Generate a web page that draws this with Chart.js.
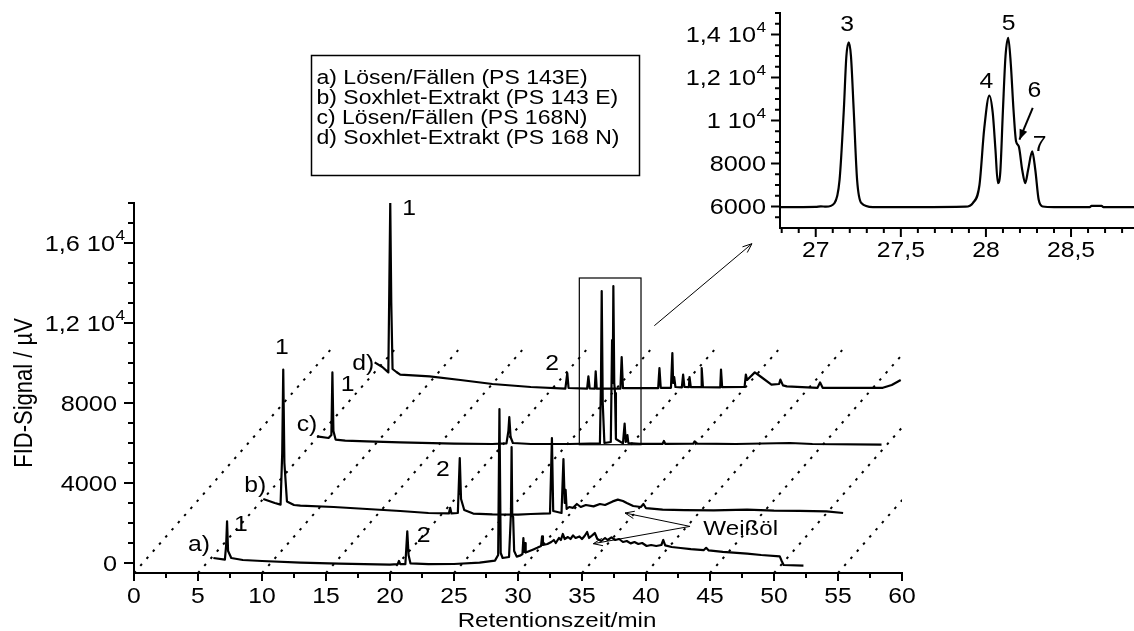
<!DOCTYPE html>
<html>
<head>
<meta charset="utf-8">
<script src="https://cdn.jsdelivr.net/npm/chart.js@4"></script>
<style>
  html, body { margin: 0; padding: 0; background: #fff; }
  #wrap { position: relative; width: 1134px; height: 631px; overflow: hidden; }
  #main { position: absolute; left: 0; top: 0; }
  #inset { position: absolute; left: 680px; top: 0; }
</style>
</head>
<body>
<div id="wrap">
  <canvas id="main" width="1134" height="631"></canvas>
  <canvas id="inset" width="454" height="265"></canvas>
</div>
<script>
// ---- Daten ----
// a) Lösen/Fällen (PS 143E)
const traceA_x = [6.2, 7.1, 7.2, 7.27, 7.35, 7.6, 8.5, 10, 13, 16,
  20, 20.6, 20.7, 20.8, 21.2, 21.35, 21.45, 21.6, 23, 25,
  27, 28.2, 28.45, 28.55, 28.65, 28.8, 29.3, 29.45, 29.5, 29.55,
  29.62, 29.7, 29.9, 30.2, 30.35, 30.42, 30.48, 30.55, 30.6, 30.9,
  31.2, 31.5, 31.8, 31.88, 31.95, 32.3, 32.6, 32.8, 32.95, 33.2,
  33.35, 33.5, 33.65, 33.9, 34.1, 34.3, 34.5, 34.8, 35.0, 35.2,
  35.4, 35.55, 35.8, 36.0, 36.2, 36.5, 36.8, 37.0, 37.3, 37.6,
  37.9, 38.2, 38.5, 38.8, 39.1, 39.4, 39.7, 40.05, 40.4, 40.8,
  41.2, 41.35, 41.5, 42.0, 42.7, 43.5, 44.5, 44.7, 44.9, 46,
  47.9, 49, 50.45, 50.6, 50.75, 52.3];
const traceA_y = [250, 170, 900, 2080, 600, 250, 150, 100, 20, -30,
  -80, -60, 100, -60, -60, 1580, 400, -20, -60, -50,
  20, 120, 400, 7700, 500, 250, 300, 2500, 5800, 2400,
  2300, 600, 320, 380, 450, 1250, 550, 1000, 520, 600,
  680, 760, 850, 1330, 900, 950, 1050, 1150, 1000, 1250,
  1150, 1450, 1200, 1300, 1200, 1380, 1250, 1330, 1200, 1350,
  1550, 1250, 1380, 1500, 1200, 1100, 1250, 1150, 1280, 1150,
  1200, 1050, 1100, 980, 1050, 950, 1000, 850, 900, 850,
  900, 1150, 880, 800, 750, 690, 640, 760, 630, 560,
  470, 400, 330, 100, -100, -130];

// b) Soxhlet-Extrakt (PS 143 E)
const traceB_x = [10.1, 11.0, 11.45, 11.58, 11.66, 11.75, 11.95, 12.5, 13, 15.6,
  20.8, 23, 24.6, 24.7, 24.8, 25.3, 25.45, 25.55, 25.8, 26.5,
  28, 30, 31, 32.5, 32.65, 32.75, 33.4, 33.55, 33.65, 33.72,
  33.8, 34.0, 34.3, 34.6, 34.9, 35.3, 35.9, 36.4, 36.8, 37.4,
  37.8, 38.2, 38.5, 39.0, 39.6, 39.8, 40.0, 41.3, 43, 45.3,
  47.9, 50, 52, 54.1, 55.4];
const traceB_y = [3200, 3000, 2920, 5500, 9670, 5000, 3080, 2900, 2870, 2800,
  2600, 2500, 2480, 2760, 2480, 2500, 5250, 3200, 2650, 2470,
  2430, 2420, 2450, 2480, 6250, 2600, 2500, 5200, 3000, 3660,
  2700, 2800, 2760, 2950, 2800, 2900, 2830, 2950, 2900, 3080,
  3170, 3100, 3000, 2850, 2800, 2950, 2740, 2670, 2640, 2630,
  2670, 2620, 2610, 2580, 2500];

// c) Lösen/Fällen (PS 168N)
const traceC_x = [14.3, 15.2, 15.42, 15.5, 15.58, 15.75, 16.5, 18.2, 20.8, 25,
  28, 29.1, 29.25, 29.32, 29.42, 29.6, 31, 34, 36.4, 36.48,
  36.54, 36.62, 36.75, 37.25, 37.35, 37.4, 37.45, 37.52, 37.58, 37.65,
  38.2, 38.33, 38.42, 38.55, 38.62, 39.5, 41.3, 41.4, 41.5, 43.7,
  43.8, 44.0, 47, 51.25, 53, 58.4];
const traceC_y = [6330, 6250, 6400, 9530, 6600, 6170, 6120, 6080, 6030, 5970,
  5950, 5980, 6600, 7300, 6300, 6000, 5950, 5950, 5980, 9000,
  13600, 8000, 6000, 6050, 11150, 9000, 13850, 9000, 8500, 6200,
  5980, 6970, 6050, 6400, 6000, 5960, 5960, 6100, 5960, 5970,
  6080, 5970, 5950, 6000, 5950, 5920];

// d) Soxhlet-Extrakt (PS 168 N)
const traceD_x = [18.8, 19.4, 19.87, 19.95, 20.02, 20.1, 20.2, 20.5, 20.8, 23.1,
  25.5, 28, 31, 33.7, 33.85, 33.95, 35.4, 35.5, 35.6, 36.0,
  36.07, 36.15, 38.0, 38.1, 38.2, 40.95, 41.05, 41.15, 41.95, 42.06,
  42.12, 42.2, 42.3, 42.8, 42.9, 43.0, 43.35, 43.4, 43.5, 44.3,
  44.35, 44.45, 45.8, 45.86, 45.95, 47.7, 47.8, 47.9, 48.5, 49.0,
  49.8, 50.4, 50.5, 50.7, 51, 53.4, 53.6, 53.8, 58.5, 59.2, 59.9];
const traceD_y = [10030, 9800, 9530, 14000, 18000, 13000, 9700, 9550, 9420, 9330,
  9150, 8950, 8800, 8720, 9500, 8750, 8720, 9330, 8730, 8720,
  9580, 8720, 8720, 10300, 8740, 8740, 9750, 8760, 8760, 10500,
  9000, 9300, 8800, 8780, 9420, 8800, 8790, 9300, 8790, 8790,
  9750, 8790, 8780, 9670, 8790, 8800, 9420, 9150, 9530, 9300,
  8920, 8950, 9170, 8880, 8830, 8760, 9030, 8760, 8760, 8900, 9150];

// Tiefen-Hilfslinien (gepunktet)
const depthStart = [0, 5, 10, 15, 20, 25, 30, 35, 40, 45, 50, 55];
const depthEnd = [15.4, 20.4, 25.4, 30.4, 35.4, 40.4, 45.4, 50.4, 55.4, 60.4, 65.4, 70.4];
const depthYLow = -500;
const depthYHigh = 10700;

// Achsen Hauptdiagramm
const mainXTicks = [0, 5, 10, 15, 20, 25, 30, 35, 40, 45, 50, 55, 60];
const mainXMinor = [2.5, 7.5, 12.5, 17.5, 22.5, 27.5, 32.5, 37.5, 42.5, 47.5, 52.5, 57.5];
const mainYTicks = [0, 4000, 8000, 12000, 16000];
const mainYLabels = ['0', '4000', '8000', ['1,2 10', '4'], ['1,6 10', '4']];
const mainYMinor = [1000, 2000, 3000, 5000, 6000, 7000, 9000, 10000, 11000, 13000, 14000, 15000, 17000, 18000];

// Ausschnitt (Lösen/Fällen PS 168N, Peaks 3-7)
const insetX = [26.79, 27.0, 27.03, 27.06, 27.11, 27.14, 27.165, 27.18, 27.194, 27.207,
  27.223, 27.243, 27.268, 27.336, 27.6, 27.88, 27.923, 27.962, 27.99, 28.02,
  28.04, 28.056, 28.07, 28.084, 28.1, 28.115, 28.131, 28.146, 28.162, 28.177,
  28.193, 28.213, 28.231, 28.248, 28.272, 28.29, 28.31, 28.334, 28.4, 28.61,
  28.62, 28.68, 28.69, 28.87];
const insetY = [5970, 5980, 6010, 5990, 6160, 7240, 10500, 12990, 13640, 12990,
  10500, 7240, 6160, 5970, 5970, 5990, 6160, 7000, 9620, 11160,
  10350, 8640, 7090, 7560, 10500, 12990, 13850, 12640, 10500, 9030,
  8800, 7710, 7090, 7710, 8560, 7710, 6310, 6000, 5970, 5970,
  6030, 6030, 5970, 5970];
const insetXTicks = [27, 27.5, 28, 28.5];
const insetXLabels = ['27', '27,5', '28', '28,5'];
const insetXMinor = [26.8, 26.9, 27.1, 27.2, 27.3, 27.4, 27.6, 27.7, 27.8, 27.9, 28.1, 28.2, 28.3, 28.4, 28.6, 28.7, 28.8];
const insetYTicks = [6000, 8000, 10000, 12000, 14000];
const insetYLabels = ['6000', '8000', ['1 10', '4'], ['1,2 10', '4'], ['1,4 10', '4']];
const insetYMinor = [5500, 6500, 7000, 7500, 8500, 9000, 9500, 10500, 11000, 11500, 12500, 13000, 13500, 14500, 15000];

// Beschriftungen (Datenkoordinaten)
const peakText = ['a)', '1', 'b)', '1', 'c)', '1', 'd)', '1', '2', '2', '2'];
const peakTextX = [5.08, 8.34, 9.48, 11.56, 13.52, 16.68, 17.91, 21.5, 22.63, 24.14, 32.66];
const peakTextY = [965, 2000, 3915, 10830, 7000, 8980, 10040, 17790, 1415, 4750, 10040];
const insetText = ['3', '4', '5', '6', '7'];
const insetTextX = [27.184, 28.002, 28.134, 28.285, 28.315];
const insetTextY = [14546, 11857, 14574, 11471, 8954];

const legendLines = [
  'a) Lösen/Fällen (PS 143E)',
  'b) Soxhlet-Extrakt (PS 143 E)',
  'c) Lösen/Fällen (PS 168N)',
  'd) Soxhlet-Extrakt (PS 168 N)'
];

// ---- Zeichenhilfen ----
const FONT = '"Liberation Sans", Arial, Helvetica, sans-serif';
const STRETCH = 1.15;

function drawText(ctx, s, x, y, size, align) {
  ctx.save();
  ctx.font = size + 'px ' + FONT;
  ctx.textAlign = align || 'center';
  ctx.textBaseline = 'alphabetic';
  ctx.translate(x, y + size * 0.36);
  ctx.scale(STRETCH, 1);
  ctx.fillText(s, 0, 0);
  ctx.restore();
}

function drawTickLabel(ctx, lab, xPlain, xBase, y, size) {
  if (Array.isArray(lab)) {
    drawText(ctx, lab[0], xBase, y, size, 'right');
    drawText(ctx, lab[1], xBase + 0.5, y - 8, 15, 'left');
  } else {
    drawText(ctx, lab, xPlain, y, size, 'right');
  }
}

function drawArrow(ctx, x1, y1, x2, y2, head, filled) {
  ctx.beginPath();
  ctx.moveTo(x1, y1);
  ctx.lineTo(x2, y2);
  ctx.stroke();
  const a = Math.atan2(y2 - y1, x2 - x1);
  const ax = x2 - head * Math.cos(a - 0.38), ay = y2 - head * Math.sin(a - 0.38);
  const bx = x2 - head * Math.cos(a + 0.38), by = y2 - head * Math.sin(a + 0.38);
  ctx.beginPath();
  if (filled) {
    ctx.moveTo(x2, y2); ctx.lineTo(ax, ay); ctx.lineTo(bx, by); ctx.closePath();
    ctx.fill();
  } else {
    ctx.moveTo(ax, ay); ctx.lineTo(x2, y2); ctx.lineTo(bx, by);
    ctx.stroke();
  }
}

function toPoints(xs, ys) {
  return xs.map((x, i) => ({ x: x, y: ys[i] }));
}

// ---- Hauptdiagramm ----
const mainDecor = {
  id: 'mainDecor',
  afterDraw(chart) {
    const ctx = chart.ctx;
    const sx = chart.scales.x, sy = chart.scales.y;
    const area = chart.chartArea;
    const px = v => sx.getPixelForValue(v);
    const py = v => sy.getPixelForValue(v);
    ctx.save();
    ctx.strokeStyle = '#000';
    ctx.fillStyle = '#000';

    // Teilstriche
    ctx.lineWidth = 2;
    ctx.beginPath();
    mainXTicks.forEach(v => { ctx.moveTo(px(v), area.bottom); ctx.lineTo(px(v), area.bottom + 8); });
    mainXMinor.forEach(v => { ctx.moveTo(px(v), area.bottom); ctx.lineTo(px(v), area.bottom + 5); });
    mainYTicks.forEach(v => { ctx.moveTo(area.left - 10, py(v)); ctx.lineTo(area.left, py(v)); });
    mainYMinor.forEach(v => { ctx.moveTo(area.left - 6, py(v)); ctx.lineTo(area.left, py(v)); });
    ctx.stroke();

    // Achsenbeschriftung
    mainXTicks.forEach(v => drawText(ctx, String(v), px(v), area.bottom + 22, 21.5, 'center'));
    mainYTicks.forEach((v, i) => drawTickLabel(ctx, mainYLabels[i], area.left - 17, area.left - 19, py(v), 22));

    drawText(ctx, 'Retentionszeit/min', 557, 619, 21, 'center');
    ctx.save();
    ctx.translate(23, 393);
    ctx.scale(STRETCH, 1);
    ctx.rotate(-Math.PI / 2);
    ctx.font = '22px ' + FONT;
    ctx.textAlign = 'center';
    ctx.textBaseline = 'alphabetic';
    ctx.fillText('FID-Signal / µV', 0, 22 * 0.36);
    ctx.restore();

    // Peak- und Kurvenbeschriftung
    peakText.forEach((t, i) => drawText(ctx, t, px(peakTextX[i]), py(peakTextY[i]), 21.5, 'center'));

    // Weißöl
    drawText(ctx, 'Weißöl', px(44.48), py(1790), 21, 'left');
    ctx.lineWidth = 1;
    drawArrow(ctx, px(43.44), py(1830), px(38.36), py(2500), 10, false);
    drawArrow(ctx, px(43.44), py(1830), px(35.88), py(965), 10, false);

    // Ausschnittsrahmen und Pfeil zum Ausschnitt
    ctx.lineWidth = 1.2;
    ctx.strokeRect(px(34.79), py(14250), px(39.61) - px(34.79), py(5915) - py(14250));
    ctx.lineWidth = 1;
    drawArrow(ctx, px(40.65), py(11865), px(48.28), py(15965), 10, false);

    // Legende
    ctx.lineWidth = 1.5;
    ctx.strokeRect(311.5, 55.5, 328, 120);
    legendLines.forEach((t, i) => drawText(ctx, t, 316.5, 77 + i * 20, 20, 'left'));

    ctx.restore();
  }
};

const depthSets = depthStart.map((s, i) => ({
  data: [{ x: s, y: depthYLow }, { x: depthEnd[i], y: depthYHigh }],
  borderColor: '#000',
  borderWidth: 2,
  borderDash: [2.5, 7],
  pointRadius: 0
}));

const traceStyle = { borderColor: '#000', borderWidth: 2.2, pointRadius: 0, tension: 0, borderJoinStyle: 'round' };

new Chart(document.getElementById('main'), {
  type: 'line',
  data: {
    datasets: depthSets.concat([
      Object.assign({ label: 'a', data: toPoints(traceA_x, traceA_y) }, traceStyle),
      Object.assign({ label: 'b', data: toPoints(traceB_x, traceB_y) }, traceStyle),
      Object.assign({ label: 'c', data: toPoints(traceC_x, traceC_y) }, traceStyle),
      Object.assign({ label: 'd', data: toPoints(traceD_x, traceD_y) }, traceStyle)
    ])
  },
  options: {
    responsive: false,
    animation: false,
    layout: { padding: { left: 134, right: 232, top: 203, bottom: 58 } },
    plugins: { legend: { display: false }, tooltip: { enabled: false } },
    scales: {
      x: {
        type: 'linear', min: 0, max: 60,
        ticks: { display: false },
        grid: { display: false, drawTicks: false },
        border: { display: true, color: '#000', width: 2 }
      },
      y: {
        type: 'linear', min: -500, max: 18000,
        ticks: { display: false },
        grid: { display: false, drawTicks: false },
        border: { display: true, color: '#000', width: 2 }
      }
    }
  },
  plugins: [mainDecor]
});

// ---- Ausschnitt ----
const insetDecor = {
  id: 'insetDecor',
  afterDraw(chart) {
    const ctx = chart.ctx;
    const sx = chart.scales.x, sy = chart.scales.y;
    const area = chart.chartArea;
    const px = v => sx.getPixelForValue(v);
    const py = v => sy.getPixelForValue(v);
    ctx.save();
    ctx.strokeStyle = '#000';
    ctx.fillStyle = '#000';
    ctx.lineWidth = 2;
    ctx.beginPath();
    insetXTicks.forEach(v => { ctx.moveTo(px(v), area.bottom); ctx.lineTo(px(v), area.bottom + 9); });
    insetXMinor.forEach(v => { ctx.moveTo(px(v), area.bottom); ctx.lineTo(px(v), area.bottom + 5); });
    insetYTicks.forEach(v => { ctx.moveTo(area.left - 9, py(v)); ctx.lineTo(area.left, py(v)); });
    insetYMinor.forEach(v => { ctx.moveTo(area.left - 5, py(v)); ctx.lineTo(area.left, py(v)); });
    ctx.stroke();

    insetXTicks.forEach((v, i) => drawText(ctx, insetXLabels[i], px(v), area.bottom + 21, 21.5, 'center'));
    insetYTicks.forEach((v, i) => drawTickLabel(ctx, insetYLabels[i], area.left - 14, area.left - 24, py(v), 22));

    insetText.forEach((t, i) => drawText(ctx, t, px(insetTextX[i]), py(insetTextY[i]), 21.5, 'center'));
    ctx.lineWidth = 2;
    drawArrow(ctx, px(28.275), py(10585), px(28.197), py(9108), 11, true);
    ctx.restore();
  }
};

new Chart(document.getElementById('inset'), {
  type: 'line',
  data: {
    datasets: [{
      data: toPoints(insetX, insetY),
      borderColor: '#000',
      borderWidth: 2.2,
      pointRadius: 0,
      cubicInterpolationMode: 'monotone'
    }]
  },
  options: {
    responsive: false,
    animation: false,
    layout: { padding: { left: 100, right: 0, top: 13, bottom: 37 } },
    plugins: { legend: { display: false }, tooltip: { enabled: false } },
    scales: {
      x: {
        type: 'linear', min: 26.79, max: 28.87,
        ticks: { display: false },
        grid: { display: false, drawTicks: false },
        border: { display: true, color: '#000', width: 2 }
      },
      y: {
        type: 'linear', min: 5000, max: 15000,
        ticks: { display: false },
        grid: { display: false, drawTicks: false },
        border: { display: true, color: '#000', width: 2 }
      }
    }
  },
  plugins: [insetDecor]
});
</script>
</body>
</html>
